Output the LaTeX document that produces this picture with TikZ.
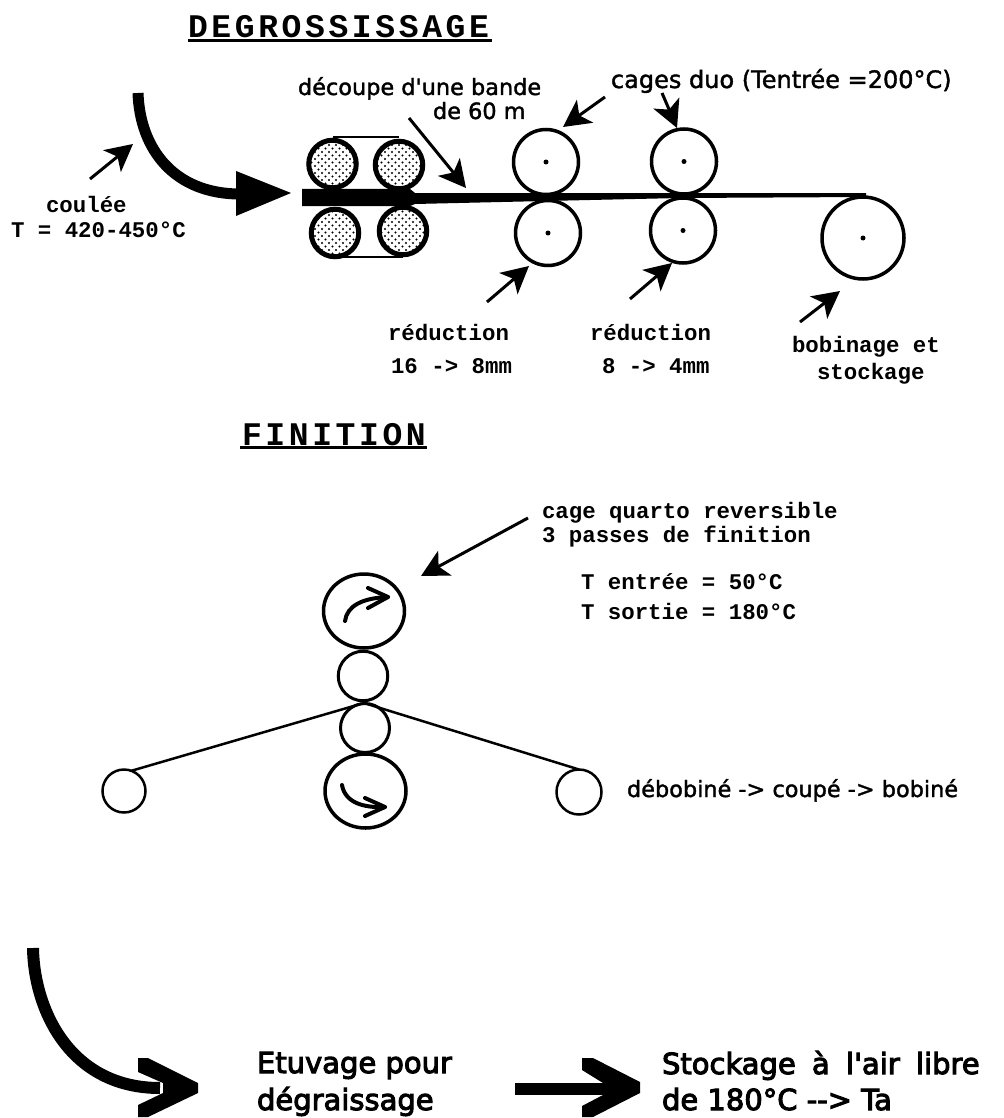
\documentclass[tikz,border=0pt]{standalone}
\usepackage{fontspec}
\setmainfont{Liberation Sans}
\newfontfamily\mymono{Liberation Mono}
\newfontfamily\mytitle[LetterSpace=11]{Liberation Mono Bold}
\newfontfamily\mydv[FakeBold=1.6]{DejaVu Sans}
\newfontfamily\mygrand[FakeBold=3.5]{DejaVu Sans}
\usetikzlibrary{arrows.meta,patterns,shapes.geometric}
\pgfdeclarepatternformonly{bigdots}{\pgfpoint{-1.5pt}{-1.5pt}}{\pgfpoint{8pt}{8pt}}{\pgfpoint{7pt}{7pt}}{%
  \pgfpathcircle{\pgfpoint{0pt}{0pt}}{1.2pt}\pgfpathcircle{\pgfpoint{3.5pt}{3.5pt}}{1.2pt}\pgfusepath{fill}}
\tikzset{
 every node/.style={inner sep=0pt,outer sep=0pt},
 titre/.style={anchor=base west,font=\mytitle\fontsize{33}{33}\selectfont},
 lab/.style={anchor=base west,font=\mymono\bfseries\fontsize{22.4}{22}\selectfont},
 sans/.style={anchor=base west,font=\mydv\fontsize{22.4}{22}\selectfont},
 sansb/.style={anchor=base west,font=\mydv\fontsize{24}{24}\selectfont},
 grand/.style={anchor=base west,font=\mygrand\fontsize{29}{29}\selectfont},
 roll/.style={circle,draw,line width=3.5pt,fill=white},
 oval/.style={ellipse,draw,line width=3.5pt,fill=white,minimum width=81pt,minimum height=74pt},
 stip/.style={circle,draw,line width=5pt,minimum size=47.5pt,pattern=bigdots},
 axisdot/.style={circle,fill=black,minimum size=5pt},
 fleche/.style={line width=3pt,-{Stealth[length=27pt,width=28pt,inset=7pt]}},
 sensrot/.style={line width=4pt,line cap=round,line join=round},
}
\begin{document}
\begin{tikzpicture}[x=1pt,y=-1pt]
\useasboundingbox (0,0) rectangle (1003,1118);
% titles
\node[titre] (t1) at (188,37.5) {DEGROSSISSAGE};
\draw[line width=2.5pt] (188,40.5) -- (492,40.5);
\node[titre] (t2) at (242,445) {FINITION};
\draw[line width=2.5pt] (240,447.5) -- (427,447.5);
% stippled rolls
\draw[line width=2pt] (333,137.5) -- (399,137.5);
\draw[line width=2pt] (335,257) -- (403,257);
\node[stip] (s1) at (332.5,164) {};
\node[stip] (s2) at (399,165) {};
\node[stip] (s3) at (335,233) {};
\node[stip] (s4) at (403,231) {};
% duo rolls
\node[roll,minimum size=65pt] (d1) at (546,162) {};
\node[roll,minimum size=65pt] (d2) at (548,233) {};
\node[roll,minimum size=65pt] (d3) at (684,161.5) {};
\node[roll,minimum size=65pt] (d4) at (683,230.5) {};
\node[roll,minimum size=82pt] (d5) at (863,238) {};
\foreach \n in {d1,d2,d3,d4,d5}{\node[axisdot] at (\n) {};}
% strip
\fill (302,189) -- (410,189) -- (415,193) -- (866,193) -- (866,197) -- (680,198) -- (545,201) -- (415,204) -- (410,206) -- (302,206) -- cycle;
% casting arrow
\coordinate (c0) at (138,93);
\coordinate (c1) at (240,194);
\draw[line width=11pt] (c0) .. controls (140,150) and (175,194) .. (c1);
\fill (236,171) -- (291,193) -- (236,216) -- cycle;
% leader arrows
\coordinate (a1s) at (90,179); \coordinate (a1e) at (133,144);
\coordinate (a2s) at (409,118); \coordinate (a2e) at (466,188);
\coordinate (a3s) at (605,97); \coordinate (a3e) at (563,127);
\coordinate (a4s) at (662,93); \coordinate (a4e) at (677,128);
\coordinate (a5s) at (487,302); \coordinate (a5e) at (529,266);
\coordinate (a6s) at (630,299); \coordinate (a6e) at (672,263);
\coordinate (a7s) at (800,322); \coordinate (a7e) at (840,291);
\coordinate (a8s) at (528,518); \coordinate (a8e) at (421,576);
\foreach \i in {1,...,8}{\draw[fleche] (a\i s) -- (a\i e);}
% labels top
\node[lab] (l1) at (46,212) {coulée};
\node[lab] (l2) at (11,237) {T = 420-450°C};
\node[sans] (l3) at (298,95) {découpe d'une bande};
\node[sans] (l4) at (433,119) {de 60 m};
\node[sansb] (l5) at (611,88) {cages duo (Tentrée =200°C)};
\node[lab] (l6) at (388,340) {réduction};
\node[lab] (l7) at (391,373) {16 -> 8mm};
\node[lab] (l8) at (590,340) {réduction};
\node[lab] (l9) at (602,373) {8 -> 4mm};
\node[lab] (l10) at (792,352) {bobinage et};
\node[lab] (l11) at (817,379) {stockage};
% finition
\node[lab] (f1) at (542,518) {cage quarto reversible};
\node[lab] (f2) at (542,542) {3 passes de finition};
\node[lab] (f3) at (581,589) {T entrée = 50°C};
\node[lab] (f4) at (581,619) {T sortie = 180°C};
\node[sans] (f5) at (627,797) {débobiné -> coupé -> bobiné};
% quarto
\coordinate (apex) at (364,703);
\node[roll,line width=2.5pt,minimum size=43pt] (q5) at (124,791) {};
\node[roll,line width=2.5pt,minimum size=45pt] (q6) at (579,792) {};
\node[roll,line width=3pt,minimum size=49.5pt] (q2) at (363,676) {};
\node[roll,line width=3pt,minimum size=49pt] (q3) at (365,728) {};
\node[oval] (q1) at (364,611) {};
\node[oval] (q4) at (365.5,791) {};
\draw[line width=2.5pt] (q5.70) -- (apex) -- (q6.north);
\draw[sensrot] (345,621) .. controls (347,606) and (362,598) .. (388,597);
\draw[sensrot] (368,588) -- (388,597) -- (368,608);
\draw[sensrot] (342,785) .. controls (345,802) and (362,808) .. (385,807);
\draw[sensrot] (365,798) -- (385,807) -- (365,816);
% bottom arrows
\coordinate (b0) at (33,948);
\coordinate (b1) at (160,1088);
\draw[line width=12pt] (b0) .. controls (34,1010) and (70,1088) .. (b1);
\fill (138,1058) -- (148,1058) -- (198,1083) -- (198,1093) -- (148,1117) -- (138,1117) -- (138,1105) -- (163,1093) -- (163,1083) -- (138,1072) -- cycle;
\coordinate (b2) at (515,1089);
\coordinate (b3) at (605,1089);
\draw[line width=12pt] (b2) -- (b3);
\fill (582,1058) -- (593,1058) -- (640,1082) -- (640,1093) -- (593,1117) -- (582,1117) -- (582,1106) -- (603,1095) -- (603,1083) -- (582,1070) -- cycle;
\node[grand] (g1) at (257,1073) {Etuvage pour};
\node[grand] (g2) at (257,1110) {dégraissage};
\node[grand] (g3) at (662,1074) {Stockage\hspace{7pt} à\hspace{7pt} l'air\hspace{7pt} libre};
\node[grand] (g4) at (662,1110) {de 180°C --> Ta};
\end{tikzpicture}
\end{document}
